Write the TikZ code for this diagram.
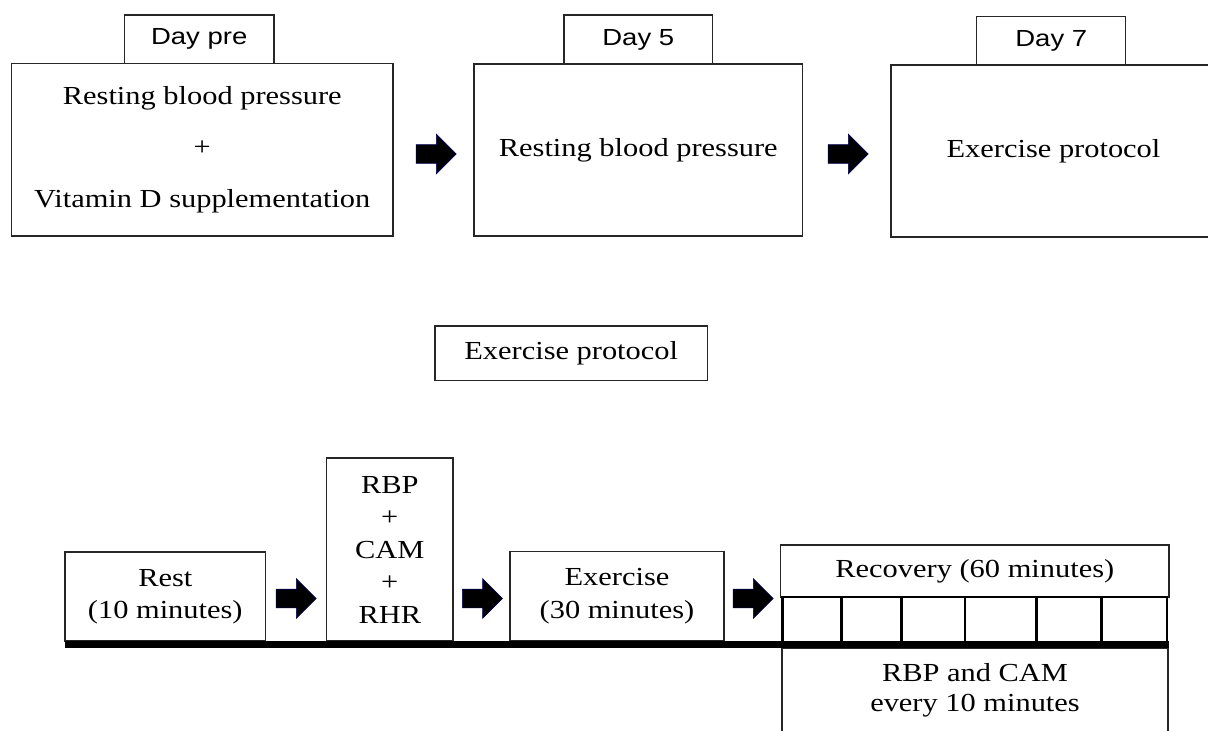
\documentclass[tikz,border=0pt]{standalone}
\usepackage{fontspec}
\setmainfont{Liberation Serif}[FakeStretch=1.17]
\newfontfamily\tabfont{Liberation Sans}[FakeStretch=1.18]
\usetikzlibrary{shapes.arrows}
\begin{document}
\begin{tikzpicture}[x=1pt,y=-1pt,
  box/.style={draw=black!85, line width=1.3pt, inner sep=0pt, align=center,
    font=\fontsize{26}{32.5}\selectfont},
  tab/.style={draw=black!85, line width=1.3pt, inner sep=0pt, align=center,
    font=\tabfont\fontsize{23.3}{28}\selectfont},
  cell/.style={draw=black, line width=2.6pt, inner sep=0pt, minimum height=46pt},
  blockarrow/.style={shape=single arrow, fill=black, draw=blue!35!black, line width=0.6pt,
    inner sep=0pt, text height=18pt, text depth=0pt, minimum height=40pt,
    minimum width=39pt, single arrow head extend=10.5pt},
  timeline/.style={line width=7pt, black}
]
\useasboundingbox (0,0) rectangle (1208,731);

% top row
\node[tab, minimum width=149.7pt, minimum height=48.3pt] (t1) at (199.2,39.2) {Day pre};
\node[box, minimum width=381.3pt, minimum height=172.7pt] (b1) at (202.3,149.7)
  {Resting blood pressure\\[19pt]+\\[19pt]Vitamin D supplementation};
\node[tab, minimum width=148.7pt, minimum height=49pt] (t2) at (638.3,39.5) {Day 5};
\node[box, minimum width=328.7pt, minimum height=172pt] (b2) at (638.3,150) {Resting blood pressure};
\node[tab, minimum width=149pt, minimum height=48.3pt] (t3) at (1051.3,40.8) {Day 7};
\node[box, minimum width=325pt, minimum height=172pt] (b3) at (1053.5,151) {Exercise protocol};
\node[blockarrow] (a1) at (431.5,154) {};
\node[blockarrow] (a2) at (843.5,154) {};

% middle title
\node[box, minimum width=272.3pt, minimum height=54.7pt] (ep) at (571.2,353.3) {Exercise protocol};

% bottom row
\node[box, minimum width=200.7pt, minimum height=89pt] (rest) at (165.3,596.5) {Rest\\(10 minutes)};
\node[box, minimum width=126.3pt, minimum height=183pt] (rbp) at (389.8,549.5) {RBP\\+\\CAM\\+\\RHR};
\node[box, minimum width=214pt, minimum height=89.3pt] (ex) at (617,596.3) {Exercise\\(30 minutes)};
\node[box, minimum width=388.3pt, minimum height=52pt] (rec) at (974.8,571) {Recovery (60 minutes)};
\node[box, minimum width=386pt, minimum height=85pt] (meas) at (975,690.5) {RBP and CAM\\[-2.5pt]every 10 minutes};

\node[cell, minimum width=59pt] (c1) at (812.2,620) {};
\node[cell, minimum width=60pt] (c2) at (871.7,620) {};
\node[cell, minimum width=63.3pt] (c3) at (933.35,620) {};
\node[cell, minimum width=71.7pt] (c4) at (1000.85,620) {};
\node[cell, minimum width=65pt] (c5) at (1069.2,620) {};
\node[cell, minimum width=65.3pt] (c6) at (1134.35,620) {};

\node[blockarrow] (a3) at (291.5,598.5) {};
\node[blockarrow] (a4) at (477.7,598.5) {};
\node[blockarrow] (a5) at (748.5,598.5) {};

\coordinate (tlstart) at (65,644.5);
\coordinate (tlend) at (1168.5,644.5);
\draw[timeline] (tlstart) -- (tlend);
\end{tikzpicture}
\end{document}
